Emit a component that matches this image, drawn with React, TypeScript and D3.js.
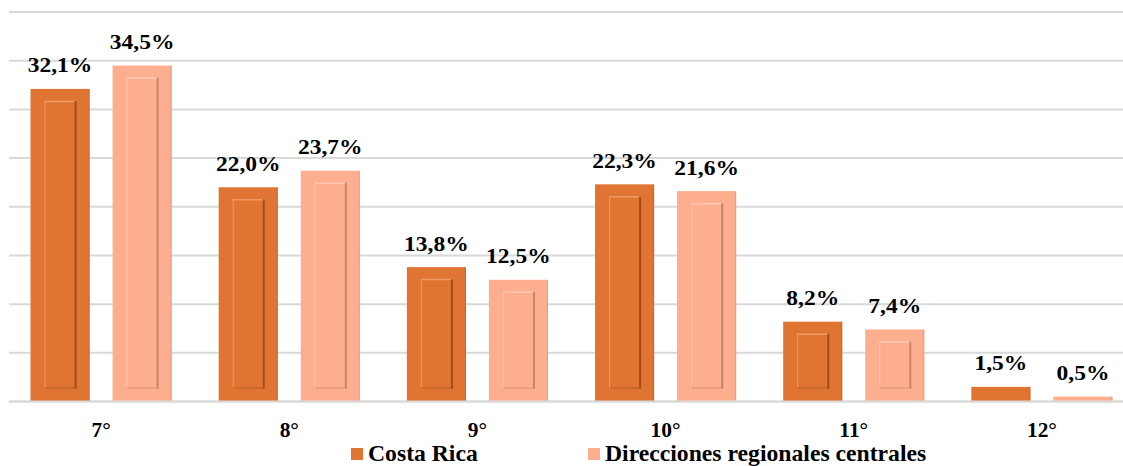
import React from "react";
import * as d3 from "d3";

const categories = ["7°", "8°", "9°", "10°", "11°", "12°"];
const seriesNames = ["Costa Rica", "Direcciones regionales centrales"];
const costaRica = [32.1, 22.0, 13.8, 22.3, 8.2, 1.5];
const regionales = [34.5, 23.7, 12.5, 21.6, 7.4, 0.5];
const yTicks = [0, 5, 10, 15, 20, 25, 30, 35, 40];

const fills = ["#E07533", "#FCAE8E"];
const darks = ["#8E4418", "#B9795F"];
const lights = ["#EE9A63", "#FFC8B0"];

const width = 1123;
const height = 466;
const textStyle: React.CSSProperties = {
  fontFamily: "'Liberation Serif', 'Times New Roman', serif",
  fontWeight: 700,
};

const fmt = (v: number) => v.toFixed(1).replace(".", ",") + "%";

// the source picture is a little wider than it is tall, so text is stretched
const stretch = (px: number, py: number, sx: number) =>
  `translate(${px},${py}) scale(${sx},1)`;

const App: React.FC = () => {
  const x = d3
    .scaleBand<string>()
    .domain(categories)
    .range([7, 1136])
    .paddingInner(0.25)
    .paddingOuter(0.125);

  const xSub = d3
    .scaleBand<string>()
    .domain(seriesNames)
    .range([0, x.bandwidth()])
    .paddingInner(0.28);

  const y = d3.scaleLinear().domain([0, 40]).range([401.5, 12]);

  const series = [costaRica, regionales];
  const legendX = [351, 588];

  return (
    <svg
      width={width}
      height={height}
      style={{ position: "absolute", left: 0, top: 0, background: "#fff" }}
    >
      {/* gridlines */}
      <g>
        {yTicks.map((t) => (
          <line
            key={t}
            x1={9}
            x2={width}
            y1={y(t)}
            y2={y(t)}
            stroke="#D9D9D9"
            strokeWidth={2}
          />
        ))}
      </g>

      {/* bars */}
      {series.map((vals, si) => (
        <g key={seriesNames[si]}>
          {vals.map((v, i) => {
            const bx = (x(categories[i]) ?? 0) + (xSub(seriesNames[si]) ?? 0);
            const bw = xSub.bandwidth();
            const by = y(v);
            const bh = y(0) - by;
            const ix = bx + 14;
            const iw = bw - 27;
            const iy = by + 12;
            const ih = bh - 25;
            return (
              <g key={i}>
                <rect x={bx} y={by} width={bw} height={bh} fill={fills[si]} />
                <line
                  x1={bx + bw - 0.5}
                  x2={bx + bw - 0.5}
                  y1={by}
                  y2={by + bh}
                  stroke={darks[si]}
                  strokeOpacity={0.35}
                />
                {ih > 4 && (
                  <g>
                    <rect x={ix} y={iy} width={iw} height={ih} fill={fills[si]} />
                    <line x1={ix} x2={ix + iw} y1={iy + 0.5} y2={iy + 0.5} stroke={lights[si]} strokeWidth={1.5} />
                    <line x1={ix + 0.5} x2={ix + 0.5} y1={iy} y2={iy + ih} stroke={lights[si]} strokeWidth={1} />
                    <line x1={ix + iw - 1} x2={ix + iw - 1} y1={iy} y2={iy + ih} stroke={darks[si]} strokeWidth={2} strokeOpacity={0.8} />
                    <line x1={ix} x2={ix + iw} y1={iy + ih - 0.5} y2={iy + ih - 0.5} stroke={darks[si]} strokeWidth={1} strokeOpacity={0.5} />
                  </g>
                )}
              </g>
            );
          })}
        </g>
      ))}

      {/* value labels */}
      {series.map((vals, si) => (
        <g key={"lbl" + si}>
          {vals.map((v, i) => (
            <text
              key={i}
              transform={stretch(
                (x(categories[i]) ?? 0) + (xSub(seriesNames[si]) ?? 0) + xSub.bandwidth() / 2,
                y(v) - 16.5,
                1.12
              )}
              textAnchor="middle"
              style={{ ...textStyle, fontSize: "21px" }}
              fill="#000"
            >
              {fmt(v)}
            </text>
          ))}
        </g>
      ))}

      {/* baseline */}
      <line x1={9} x2={width} y1={y(0)} y2={y(0)} stroke="#D9D9D9" strokeWidth={2} />

      {/* category labels */}
      {categories.map((c) => (
        <text
          key={c}
          transform={stretch((x(c) ?? 0) + x.bandwidth() / 2, 436.5, 1.07)}
          textAnchor="middle"
          style={{ ...textStyle, fontSize: "20px" }}
          fill="#000"
        >
          {c}
        </text>
      ))}

      {/* legend */}
      {seriesNames.map((s, si) => (
        <g key={s}>
          <rect x={legendX[si]} y={448} width={12} height={12} fill={fills[si]} />
          <text
            transform={stretch(legendX[si] + 17, 461, 1.03)}
            style={{ ...textStyle, fontSize: "23px" }}
            fill="#000"
          >
            {s}
          </text>
        </g>
      ))}
    </svg>
  );
};

export default App;
